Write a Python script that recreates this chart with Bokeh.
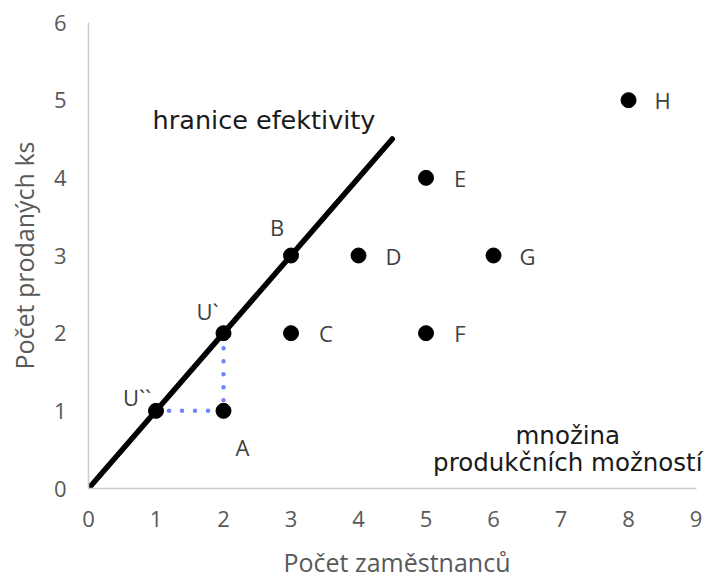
from bokeh.plotting import figure
from bokeh.models import ColumnDataSource, Range1d, FixedTicker
from bokeh.core.properties import value
from bokeh.embed import file_html
from bokeh.resources import INLINE

# --- data ---
point_names = ["A", "C", "D", "E", "F", "G", "H"]
point_x = [2, 3, 4, 5, 5, 6, 8]
point_y = [1, 2, 3, 4, 2, 3, 5]

frontier_names = ["U``", "U`", "B"]
frontier_x = [1, 2, 3]
frontier_y = [1, 2, 3]

line_x = [0, 4.5]
line_y = [0, 4.5]

dotted_x = [1, 2, 2]
dotted_y = [1, 1, 2]

x_ticks = [0, 1, 2, 3, 4, 5, 6, 7, 8, 9]
y_ticks = [0, 1, 2, 3, 4, 5, 6]

# label offsets (pixels)
point_dx = [19, 35, 35, 34, 34, 34, 34]
point_dy = [36, 0, 0, 0, 0, 0, 0]
frontier_dx = [-19, -16, -14]
frontier_dy = [-14, -22, -29]

FONT = "Open Sans"
ANN_FONT = "DejaVu Sans"

p = figure(width=705, height=581, output_backend="svg", toolbar_location=None,
           x_range=Range1d(0, 9.14), y_range=Range1d(0, 6),
           min_border_left=88, min_border_right=0, min_border_top=22, min_border_bottom=91)
p.outline_line_color = None
p.xgrid.visible = False
p.ygrid.visible = False
p.background_fill_color = "white"

for ax in (p.xaxis[0], p.yaxis[0]):
    ax.axis_line_color = "#cccccc"
    ax.axis_line_width = 1.5
    ax.major_tick_line_color = None
    ax.minor_tick_line_color = None
    ax.major_label_text_font = FONT
    ax.major_label_text_font_size = "22px"
    ax.major_label_text_color = "#595959"
    ax.axis_label_text_font = FONT
    ax.axis_label_text_font_size = "25px"
    ax.axis_label_text_font_style = "normal"
    ax.axis_label_text_color = "#595959"

p.xaxis.bounds = (0, 9)
p.yaxis.bounds = (0, 6)
p.xaxis.ticker = FixedTicker(ticks=x_ticks)
p.yaxis.ticker = FixedTicker(ticks=y_ticks)
p.xaxis.axis_label = "Počet zaměstnanců"
p.yaxis.axis_label = "Počet prodaných ks"
p.xaxis.major_label_standoff = 16
p.xaxis.axis_label_standoff = 15
p.yaxis.major_label_standoff = 16
p.yaxis.axis_label_standoff = 10

# dotted blue helper lines
p.line(dotted_x, dotted_y, line_color="#7084ff", line_width=4.5,
       line_dash="0 13", line_cap="round")

# efficiency frontier
p.line(line_x, line_y, line_color="black", line_width=5.5, line_cap="round")

# points
src_pts = ColumnDataSource(dict(x=point_x, y=point_y, name=point_names,
                                dx=point_dx, dy=point_dy))
src_fr = ColumnDataSource(dict(x=frontier_x, y=frontier_y, name=frontier_names,
                               dx=frontier_dx, dy=frontier_dy))
p.scatter("x", "y", source=src_pts, size=15, color="black")
p.scatter("x", "y", source=src_fr, size=15, color="black")

p.text("x", "y", text="name", source=src_pts, x_offset="dx", y_offset="dy",
       text_font=value(FONT), text_font_size="22px", text_color="#404040",
       text_align="center", text_baseline="middle")
p.text("x", "y", text="name", source=src_fr, x_offset="dx", y_offset="dy",
       text_font=value(FONT), text_font_size="22px", text_color="#404040",
       text_align="center", text_baseline="middle")

# annotations
p.text([2.6], [4.74], text=["hranice efektivity"], text_font=value(ANN_FONT),
       text_font_size="25.5px", text_color="#1a1a1a",
       text_align="center", text_baseline="middle")
p.text([7.1, 7.1], [0.68, 0.33], text=["množina", "produkčních možností"],
       text_font=value(ANN_FONT), text_font_size="24.5px", text_color="#1a1a1a",
       text_align="center", text_baseline="middle")

open("out.html", "w").write(file_html(p, INLINE))
